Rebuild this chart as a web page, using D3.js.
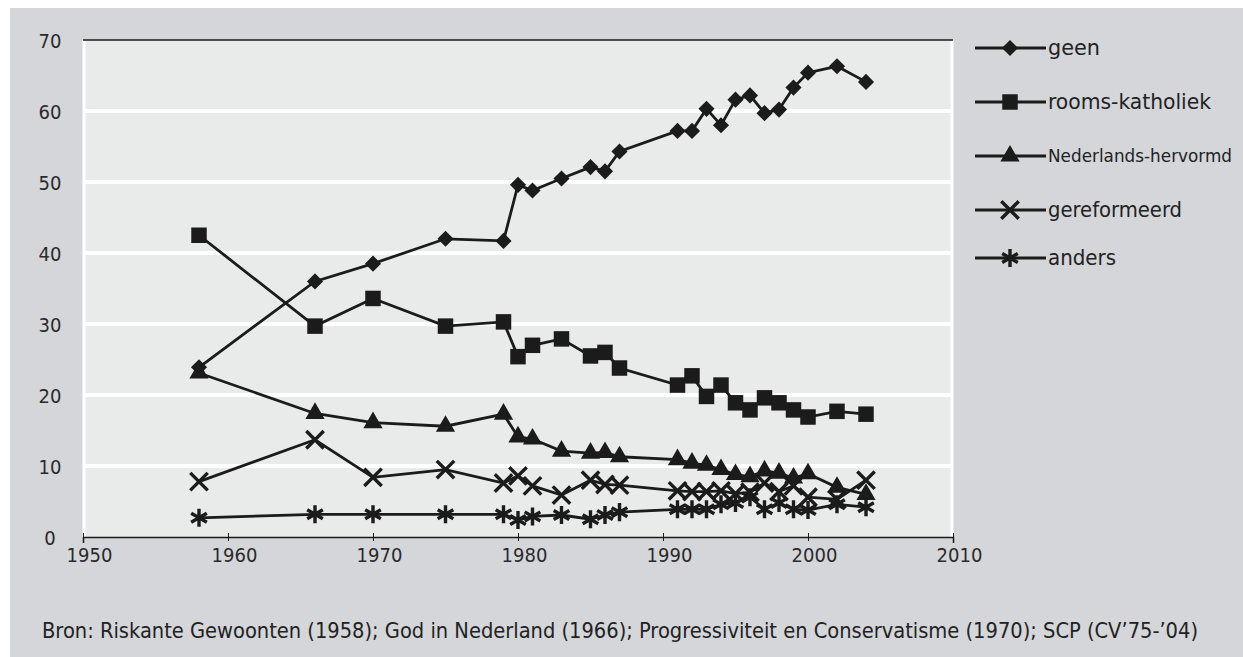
<!DOCTYPE html>
<html><head><meta charset="utf-8">
<script src="https://cdn.jsdelivr.net/npm/d3@7"></script>
<style>body{margin:0;background:#fff;overflow:hidden} svg{display:block}</style>
</head><body>
<svg id="c" width="1243" height="657"></svg>
<script>
const years = [1958,1966,1970,1975,1979,1980,1981,1983,1985,1986,1987,1991,1992,1993,1994,1995,1996,1997,1998,1999,2000,2002,2004];
const geen = [23.9,36.0,38.5,42.0,41.7,49.6,48.8,50.5,52.1,51.5,54.3,57.2,57.2,60.3,58.0,61.6,62.2,59.7,60.2,63.3,65.4,66.3,64.1];
const roomsKatholiek = [42.5,29.7,33.6,29.7,30.3,25.4,27.0,27.9,25.5,26.0,23.8,21.4,22.7,19.8,21.4,18.9,17.9,19.6,18.9,17.9,16.9,17.7,17.3];
const nederlandsHervormd = [23.1,17.4,16.1,15.6,17.3,14.1,13.8,12.1,11.8,11.9,11.3,10.9,10.4,10.1,9.5,8.8,8.5,9.3,9.0,8.3,8.9,7.0,6.0];
const gereformeerd = [7.8,13.7,8.4,9.5,7.6,8.6,7.2,5.9,8.0,7.4,7.3,6.5,6.4,6.4,6.5,6.1,6.3,7.6,6.4,7.2,5.6,5.3,8.0];
const anders = [2.7,3.2,3.2,3.2,3.2,2.4,2.9,3.1,2.5,3.1,3.5,3.9,3.9,3.9,4.6,4.8,5.6,3.9,4.8,3.9,3.8,4.6,4.2];
const seriesNames = ["geen","rooms-katholiek","Nederlands-hervormd","gereformeerd","anders"];
const xTicks = [1950,1960,1970,1980,1990,2000,2010];
const yTicks = [0,10,20,30,40,50,60,70];
const sourceText = "Bron: Riskante Gewoonten (1958); God in Nederland (1966); Progressiviteit en Conservatisme (1970); SCP (CV\u201975-\u201904)";

const seriesValues = [geen, roomsKatholiek, nederlandsHervormd, gereformeerd, anders];
const symbolTypes = ["diamond","square","triangle","x","asterisk"];

const svg = d3.select("#c");
const FONT = "'DejaVu Sans Condensed','Liberation Sans Narrow','Open Sans',sans-serif";
const INK = "#1b1b1b";

svg.append("rect").attr("x",10).attr("y",8).attr("width",1233).attr("height",649).attr("fill","#d4d6d9");

const L = 83, R = 953, T = 40, B = 537;
const x = d3.scaleLinear().domain([1950,2010]).range([L,R]);
const y = d3.scaleLinear().domain([0,70]).range([B,T]);

svg.append("rect").attr("x",L).attr("y",T).attr("width",R-L).attr("height",B-T).attr("fill","#e9ebeb");
svg.append("line").attr("x1",L+1).attr("x2",L+1).attr("y1",T).attr("y2",B).attr("stroke","#fff").attr("stroke-width",3);
svg.append("line").attr("x1",R-1).attr("x2",R-1).attr("y1",T).attr("y2",B).attr("stroke","#fff").attr("stroke-width",3);

svg.append("g").selectAll("line").data(yTicks.filter(v=>v>0 && v<70)).join("line")
  .attr("x1",L).attr("x2",R).attr("y1",d=>y(d)).attr("y2",d=>y(d))
  .attr("stroke","#fff").attr("stroke-width",4);

svg.append("line").attr("x1",L).attr("x2",R).attr("y1",T).attr("y2",T).attr("stroke",INK).attr("stroke-width",1.5);

const yAxis = d3.axisLeft(y).tickValues(yTicks).tickSize(0).tickPadding(0).tickFormat(d3.format("d"));
const gy = svg.append("g").attr("transform",`translate(50,0)`).call(yAxis);
gy.select(".domain").remove();
gy.selectAll("text").attr("text-anchor","middle").attr("font-family",FONT).attr("font-size",20).attr("fill","#2a2a2a").attr("dy","0.35em");

const xAxis = d3.axisBottom(x).tickValues(xTicks).tickSize(6).tickPadding(4).tickFormat(d3.format("d"));
const gx = svg.append("g").attr("transform",`translate(0,${B})`).call(xAxis);
gx.select(".domain").attr("stroke",INK).attr("stroke-width",1.5);
gx.selectAll(".tick line").attr("stroke",INK).attr("stroke-width",1).attr("y1",-4).attr("y2",4);
gx.selectAll("text").attr("font-family",FONT).attr("font-size",20).attr("fill","#2a2a2a").attr("dx",6).attr("dy","0.75em");

function symbolPath(type){
  if(type==="diamond") return d3.symbol().type(d3.symbolSquare).size(130)();
  if(type==="square") return d3.symbol().type(d3.symbolSquare).size(240)();
  if(type==="triangle") return d3.symbol().type(d3.symbolTriangle).size(160)();
  if(type==="x") return d3.symbol().type(d3.symbolX).size(200)();
  return d3.symbol().type(d3.symbolAsterisk).size(230)();
}
function drawMarker(g, type){
  const p = g.append("path").attr("d",symbolPath(type));
  if(type==="x" || type==="asterisk"){
    p.attr("fill","none").attr("stroke",INK).attr("stroke-width",3.4);
  } else {
    p.attr("fill",INK);
  }
  if(type==="diamond") p.attr("transform","rotate(45)");
  return p;
}

const line = d3.line().x(d=>x(d[0])).y(d=>y(d[1]));
seriesValues.forEach((vals,i)=>{
  const pts = years.map((yr,k)=>[yr, vals[k]]);
  const g = svg.append("g");
  g.append("path").attr("d",line(pts)).attr("fill","none").attr("stroke",INK).attr("stroke-width",2.8);
  g.selectAll("g.m").data(pts).join("g").attr("class","m")
    .attr("transform",d=>`translate(${x(d[0])},${y(d[1])})`)
    .each(function(){ drawMarker(d3.select(this), symbolTypes[i]); });
});

const legY = [48,102,156,210,258];
const legLen = [52,163,184,134,68];
const legSize = [21,21,18,21,21];
const leg = svg.append("g");
seriesNames.forEach((n,i)=>{
  const g = leg.append("g").attr("transform",`translate(0,${legY[i]})`);
  g.append("line").attr("x1",975).attr("x2",1046).attr("y1",0).attr("y2",0).attr("stroke",INK).attr("stroke-width",2.8);
  const m = g.append("g").attr("transform","translate(1010,0)");
  drawMarker(m, symbolTypes[i]);
  g.append("text").attr("x",1048).attr("y",0).attr("dy","0.32em").text(n)
    .attr("font-family",FONT).attr("font-size",legSize[i]).attr("fill","#222")
    .attr("textLength",legLen[i]).attr("lengthAdjust","spacingAndGlyphs");
});

svg.append("text").attr("x",42).attr("y",638).text(sourceText)
  .attr("font-family",FONT).attr("font-size",21).attr("fill","#222")
  .attr("textLength",1156).attr("lengthAdjust","spacingAndGlyphs");
</script>
</body></html>
